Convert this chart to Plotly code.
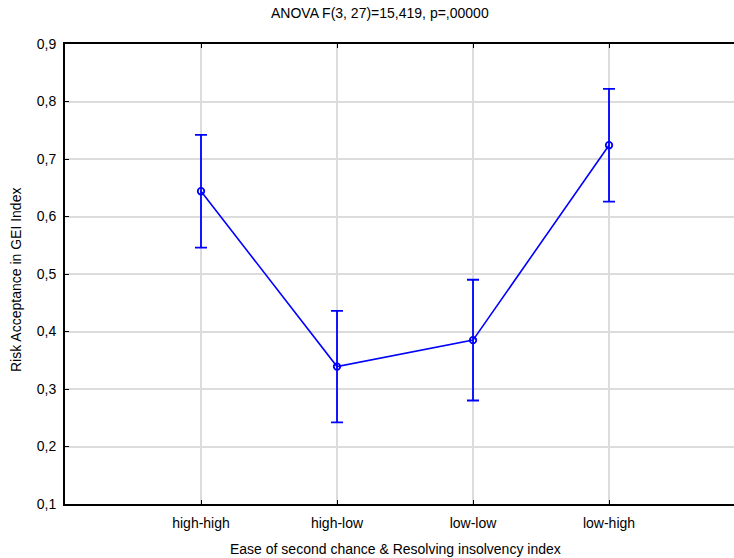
import plotly.graph_objects as go

# Group means and confidence half-widths
categories = ["high-high", "high-low", "low-low", "low-high"]
means = [0.644, 0.339, 0.385, 0.724]
ci_half = [0.098, 0.097, 0.105, 0.098]
y_ticks = [0.1, 0.2, 0.3, 0.4, 0.5, 0.6, 0.7, 0.8, 0.9]

x_pos = list(range(1, len(categories) + 1))

fig = go.Figure()
fig.add_trace(go.Scatter(
    x=x_pos,
    y=means,
    mode="lines+markers",
    line=dict(color="#0000ff", width=1.6),
    marker=dict(symbol="circle-open", size=6.5, color="#0000ff",
                line=dict(width=1.8, color="#0000ff")),
    error_y=dict(type="data", array=ci_half, visible=True,
                 color="#0000ff", thickness=1.8, width=6),
    showlegend=False,
))

font = "Liberation Sans, Arial, sans-serif"

fig.update_layout(
    width=734,
    height=558,
    margin=dict(l=65, r=0, t=44, b=54),
    paper_bgcolor="white",
    plot_bgcolor="white",
    separators=", ",
    font=dict(family=font, size=14, color="#000000"),
    xaxis=dict(
        range=[0, 4.919],
        tickmode="array",
        tickvals=x_pos,
        ticktext=categories,
        showgrid=True,
        gridcolor="#dcdcdc",
        gridwidth=1.5,
        showline=True,
        linecolor="#000000",
        linewidth=2,
        mirror="ticks",
        ticks="inside",
        ticklen=4,
        tickcolor="#000000",
        tickfont=dict(size=14),
        ticklabelstandoff=5,
        zeroline=False,
    ),
    yaxis=dict(
        range=[0.1, 0.9],
        tickmode="array",
        tickvals=y_ticks,
        tickformat=".1f",
        showgrid=True,
        gridcolor="#dcdcdc",
        gridwidth=1.5,
        showline=True,
        linecolor="#000000",
        linewidth=2,
        ticks="inside",
        ticklen=4,
        tickcolor="#000000",
        tickfont=dict(size=14),
        ticklabelstandoff=4,
        zeroline=False,
    ),
    annotations=[
        dict(text="ANOVA F(3, 27)=15,419, p=,00000", xref="paper", yref="paper",
             x=(380 - 65) / 669, y=(558 - 13 - 54) / 460, xanchor="center",
             yanchor="middle", showarrow=False, font=dict(size=14)),
        dict(text="Ease of second chance & Resolving insolvency index",
             xref="paper", yref="paper", x=(395 - 65) / 669,
             y=(558 - 549 - 54) / 460, xanchor="center", yanchor="middle",
             showarrow=False, font=dict(size=14)),
        dict(text="Risk Acceptance in GEI Index", xref="paper", yref="paper",
             x=(16 - 65) / 669, y=(558 - 280 - 54) / 460, xanchor="center",
             yanchor="middle", textangle=-90, showarrow=False,
             font=dict(size=14)),
    ],
)

fig.write_html("out.html")
